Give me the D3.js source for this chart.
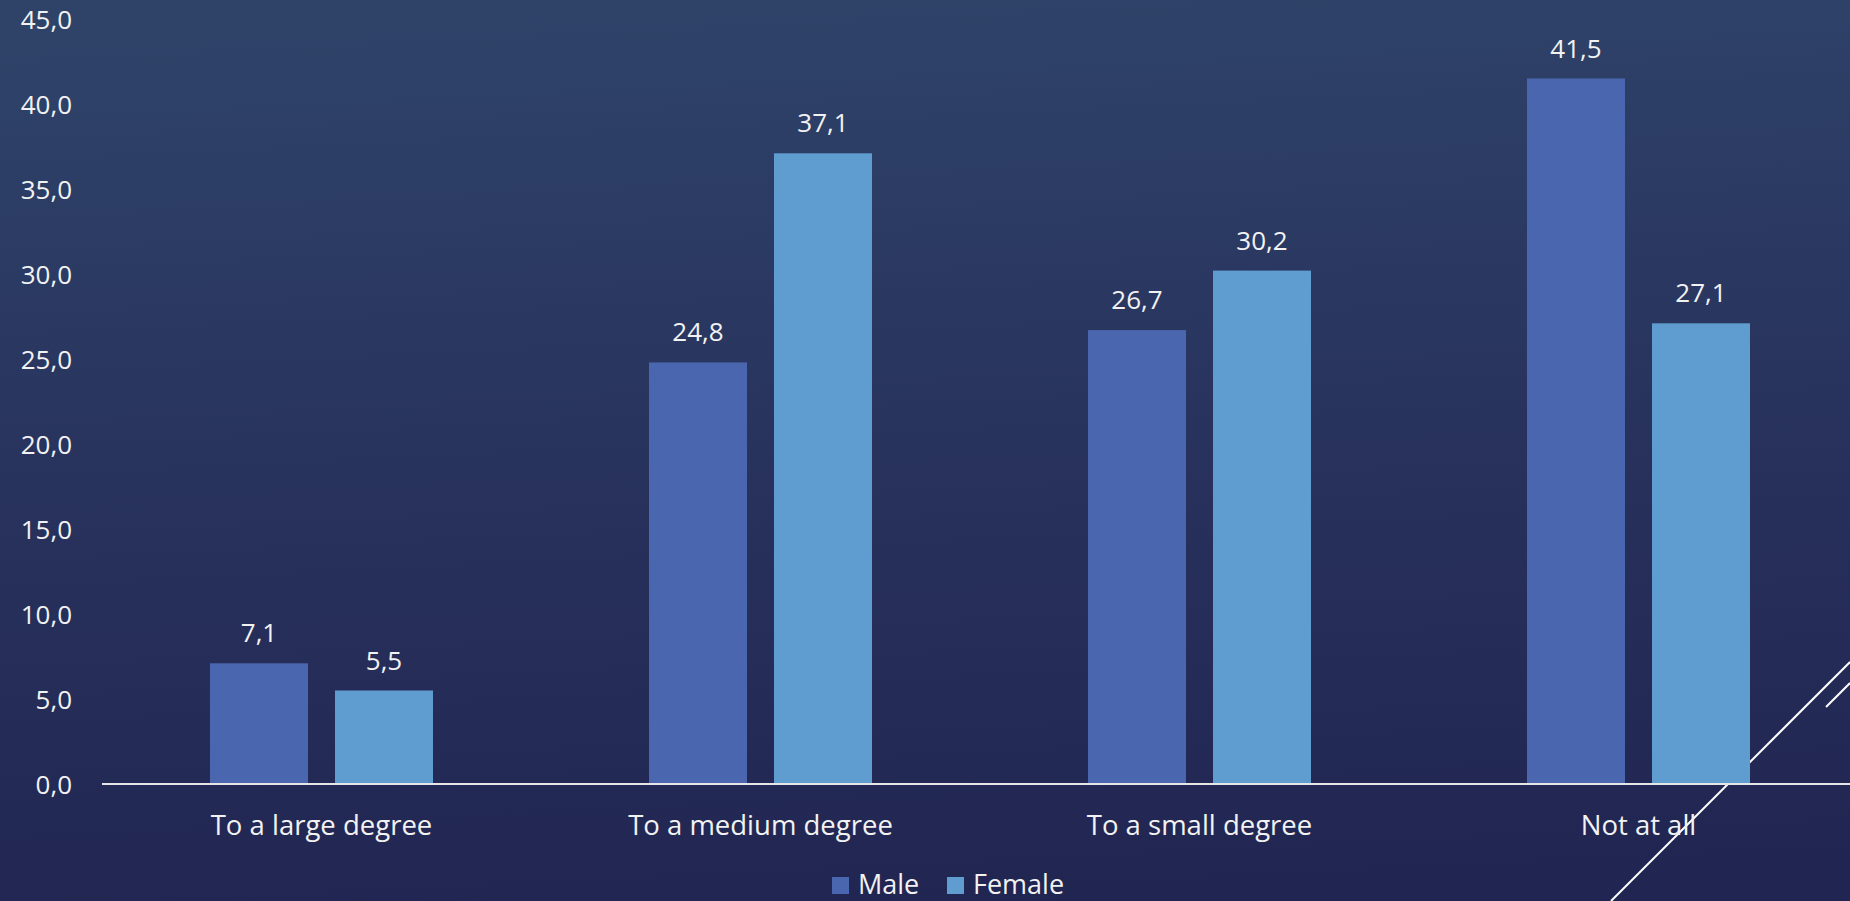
<!DOCTYPE html>
<html><head><meta charset="utf-8">
<script src="https://cdn.jsdelivr.net/npm/d3@7"></script>
<style>html,body{margin:0;padding:0;overflow:hidden;background:#262d58}</style>
</head><body>
<svg id="chart" width="1850" height="901"></svg>
<script>
const categories = ["To a large degree", "To a medium degree", "To a small degree", "Not at all"];
const seriesNames = ["Male", "Female"];
const maleValues = [7.1, 24.8, 26.7, 41.5];
const femaleValues = [5.5, 37.1, 30.2, 27.1];
const yTicks = [0, 5, 10, 15, 20, 25, 30, 35, 40, 45];
const colors = ["#4a66ae", "#5f9dd1"];

const W = 1850, H = 901;
const svg = d3.select("#chart");
const font = "'Open Sans', 'Noto Sans', sans-serif";
const fw = 400;

// background
const defs = svg.append("defs");
const g = defs.append("linearGradient").attr("id","bg").attr("x1","0.45").attr("y1","0").attr("x2","0.55").attr("y2","1");
g.append("stop").attr("offset","0").attr("stop-color","#2f4369");
g.append("stop").attr("offset","0.55").attr("stop-color","#27315c");
g.append("stop").attr("offset","1").attr("stop-color","#212551");
svg.append("rect").attr("width",W).attr("height",H).attr("fill","url(#bg)");

// decorative lines (behind bars)
svg.append("line").attr("x1",1611).attr("y1",901).attr("x2",1850).attr("y2",662)
  .attr("stroke","#ffffff").attr("stroke-width",2);
svg.append("line").attr("x1",1826).attr("y1",707).attr("x2",1850).attr("y2",683)
  .attr("stroke","#ffffff").attr("stroke-width",2);

const x0 = d3.scaleBand().domain(categories).range([102, 1858]).paddingInner(0).paddingOuter(0);
const y = d3.scaleLinear().domain([0, 45]).range([784, 19]);
const bw = 98, gap = 27;
const x1 = d3.scaleOrdinal().domain(seriesNames).range([-(bw + gap/2), gap/2]);

const data = categories.map((c,i)=>({cat:c, vals:[{s:"Male",v:maleValues[i]},{s:"Female",v:femaleValues[i]}]}));

const groups = svg.append("g").selectAll("g").data(data).join("g")
  .attr("transform", d=>`translate(${x0(d.cat)+x0.bandwidth()/2},0)`);
groups.selectAll("rect").data(d=>d.vals).join("rect")
  .attr("x", d=>x1(d.s)).attr("width", bw)
  .attr("y", d=>y(d.v)).attr("height", d=>y(0)-y(d.v))
  .attr("fill", (d,i)=>colors[i]);
groups.selectAll("text").data(d=>d.vals).join("text")
  .attr("x", d=>x1(d.s)+bw/2).attr("y", d=>y(d.v)-21)
  .attr("text-anchor","middle").attr("fill","#f2f2f2")
  .style("font-family",font).style("font-size","26px").style("font-weight",fw)
  .text(d=>d3.format(".1f")(d.v).replace(".",","));

// y axis labels
const yAxis = d3.axisLeft(y).tickValues(yTicks).tickSize(0).tickPadding(0)
  .tickFormat(d=>d3.format(".1f")(d).replace(".",","));
const ya = svg.append("g").attr("transform","translate(72,0)").call(yAxis);
ya.select(".domain").remove();
ya.selectAll("text").attr("fill","#f2f2f2").style("font-family",font).style("font-size","26px").style("font-weight",fw).attr("dy","0.35em");

// x axis
const xAxis = d3.axisBottom(x0).tickSize(0).tickPadding(0);
const xa = svg.append("g").attr("transform","translate(0,784)").call(xAxis);
xa.select(".domain").remove();
xa.selectAll("text").attr("fill","#f2f2f2").style("font-family",font).style("font-size","27.5px").style("font-weight",fw).attr("y",51).attr("dy",0);
svg.append("line").attr("x1",102).attr("x2",W).attr("y1",784).attr("y2",784)
  .attr("stroke","#e6e6e6").attr("stroke-width",2);

// legend
const legend = svg.append("g");
const legItems = [{n:"Male",x:832},{n:"Female",x:947}];
legItems.forEach((it,i)=>{
  legend.append("rect").attr("x",it.x).attr("y",877).attr("width",17).attr("height",17).attr("fill",colors[i]);
  legend.append("text").attr("x",it.x+26).attr("y",894).attr("fill","#f2f2f2")
    .style("font-family",font).style("font-size","27px").style("font-weight",fw).text(seriesNames[i]);
});
</script>
</body></html>
